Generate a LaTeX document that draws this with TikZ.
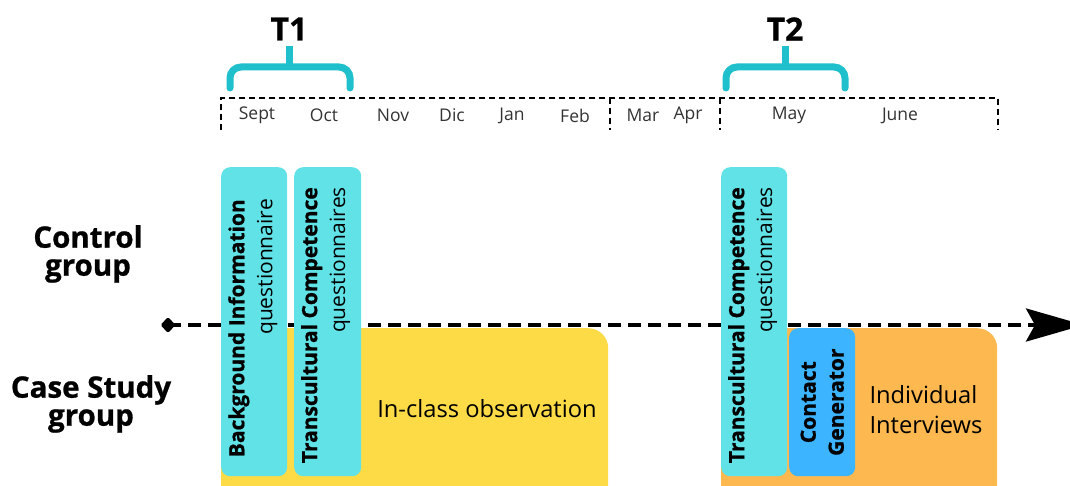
\documentclass[tikz,border=0pt]{standalone}
\usepackage{fontspec}
\setmainfont{Open Sans}
\newfontfamily\heavy{Open Sans}[BoldFeatures={FakeBold=0.8}]
\usetikzlibrary{arrows.meta}
\definecolor{bracecol}{HTML}{1FC0CB}
\definecolor{qcyan}{HTML}{60E2E7}
\definecolor{obsyellow}{HTML}{FDDB47}
\definecolor{intorange}{HTML}{FDB84F}
\definecolor{cgblue}{HTML}{3CB4FF}
\tikzset{
  month/.style={font=\fontsize{17.5}{20}\selectfont, text=black!80},
  frame/.style={draw=black, line width=1.7pt, dash pattern=on 6pt off 4pt},
  brace/.style={draw=bracecol, line width=7pt, line cap=round, rounded corners=11pt},
  stem/.style={draw=bracecol, line width=7pt},
  tlabel/.style={font=\fontsize{32}{36}\selectfont\heavy\bfseries},
  grouplabel/.style={font=\fontsize{29.5}{28}\selectfont\heavy\bfseries, align=center},
  timearrow/.style={line width=3.6pt, dash pattern=on 13pt off 7pt,
    -{Stealth[length=58pt,width=33pt,inset=9pt]}},
  qbox/.style={fill=qcyan, rounded corners=9pt, anchor=north west, inner sep=0pt},
  bigbox/.style={rounded corners=20pt, anchor=north west, inner sep=0pt},
  vtext/.style={rotate=90, align=right, font=\fontsize{21}{28}\selectfont, inner sep=0pt},
  vbold/.style={font=\fontsize{21}{28}\selectfont\heavy\bfseries},
  boxtext/.style={font=\fontsize{23.7}{30}\selectfont, align=left}
}
\begin{document}
\begin{tikzpicture}[x=1pt,y=-1pt]
\clip (0,0) rectangle (1070,486);
\fill[white] (0,0) rectangle (1070,486);

% month frame
\coordinate (f0) at (221,98);
\coordinate (f1) at (998,98);
\draw[frame] (221,130) -- (f0) -- (f1) -- (998,130);
\draw[frame] (610,98) -- (610,130);
\draw[frame] (720,98) -- (720,130);
\foreach \m/\x in {Sept/257, Oct/324, Nov/393, Dic/452, Jan/512, Feb/575,
                   Mar/643, Apr/688, May/789, June/900}
  \node[month] (m\m) at (\x,115.5) {\m};

% measurement points
\draw[brace] (230,88) -- (230,67) -- (350,67) -- (350,88);
\draw[stem] (289,67) -- (289,46);
\node[tlabel] (t1) at (289,29) {T1};
\draw[brace] (726,88) -- (726,67) -- (845,67) -- (845,88);
\draw[stem] (785,67) -- (785,46);
\node[tlabel] (t2) at (785,29) {T2};

% group labels
\node[grouplabel] (control) at (88,254) {Control\\group};
\node[grouplabel] (case) at (91,404) {Case Study\\group};

% time axis with a diamond marking its start
\coordinate (axstart) at (168,325);
\coordinate (axend) at (1084,325);
\draw[timearrow] (axstart) -- (axend);
\fill[rounded corners=1.5pt] ([xshift=-7.5pt]axstart) -- ([yshift=-8pt]axstart)
  -- ([xshift=7.5pt]axstart) -- ([yshift=8pt]axstart) -- cycle;

% case study activities
\node[bigbox, fill=obsyellow, minimum width=387pt, minimum height=200pt] (obs) at (221,328) {};
\node[boxtext] (obstext) at (487,409) {In-class observation};
\node[bigbox, fill=intorange, minimum width=276pt, minimum height=200pt] (int) at (721,328) {};
\node[boxtext] (inttext) at (926,410) {Individual\\Interviews};
\node[qbox, fill=cgblue, minimum width=66pt, minimum height=148pt] (cg) at (789,328) {};
\node[vtext, align=center, vbold] (cgtext) at (cg.center) {Contact\\Generator};

% questionnaires
\node[qbox, minimum width=66pt, minimum height=309pt] (bg) at (221,167) {};
\node[vtext, anchor=north east] (bgtext) at (228,199) {{\heavy\bfseries Background Information}\\questionnaire};
\node[qbox, minimum width=67pt, minimum height=309pt] (tc1) at (294,167) {};
\node[vtext, anchor=north east] (tc1text) at (301,187) {{\heavy\bfseries Transcultural Competence}\\questionnaires};
\node[qbox, minimum width=66pt, minimum height=309pt] (tc2) at (721,167) {};
\node[vtext, anchor=north east] (tc2text) at (728,187) {{\heavy\bfseries Transcultural Competence}\\questionnaires};
\end{tikzpicture}
\end{document}
